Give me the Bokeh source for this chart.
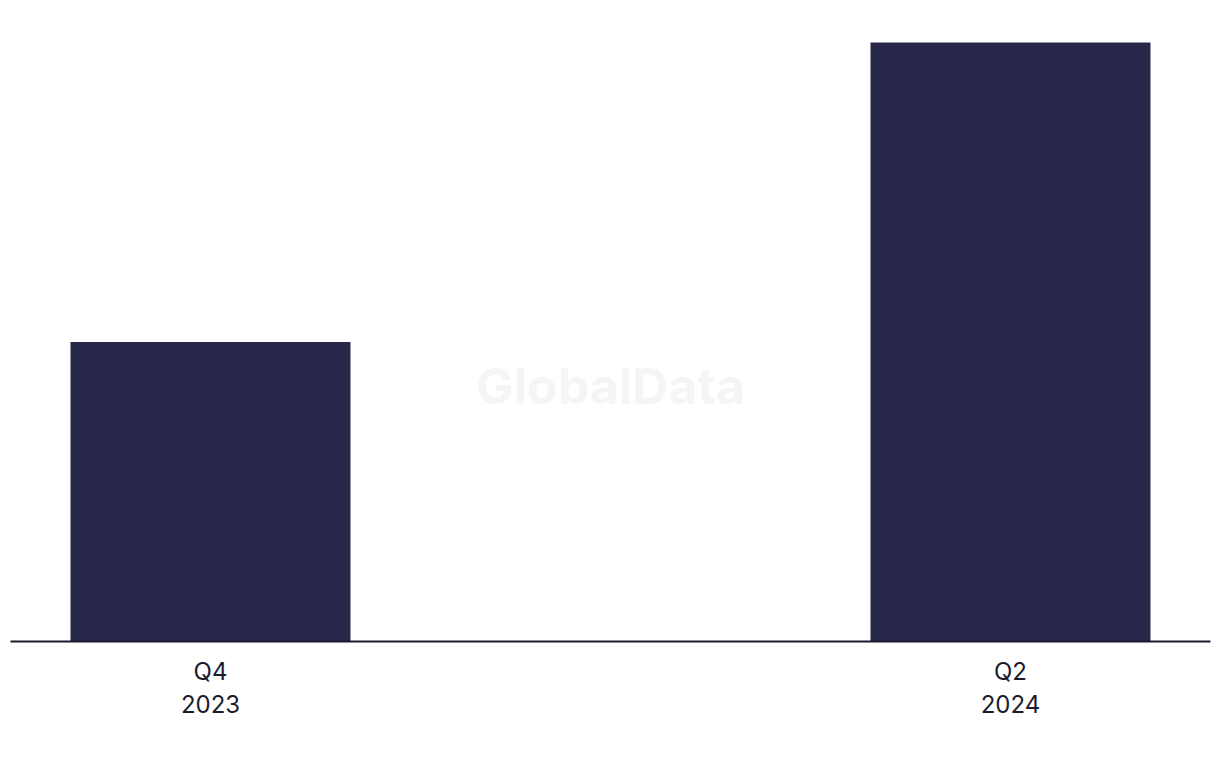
import numpy as np
from bokeh.plotting import figure
from bokeh.models import Range1d, FixedTicker, Label, ColumnDataSource
from bokeh.embed import file_html
from bokeh.resources import INLINE

periods = ["Q4\n2023", "Q1\n2024", "Q2\n2024"]
values = [50, None, 100]

BAR = "#28284a"
INK = "#1b1b2f"

idx = np.arange(len(periods)) + 0.5
keep = [i for i, v in enumerate(values) if v is not None]
src = ColumnDataSource(dict(x=[idx[i] for i in keep], top=[values[i] for i in keep]))

p = figure(width=1220, height=760, output_backend="svg", toolbar_location=None,
           x_range=Range1d(0, len(periods)), y_range=Range1d(0, 100 * 621 / 599),
           min_border_left=10, min_border_right=10, min_border_top=20, min_border_bottom=119)
p.outline_line_color = None
p.grid.visible = False
p.yaxis.visible = False

p.vbar(x="x", top="top", width=0.7, bottom=0, source=src, color=BAR, line_color=None)

wm = Label(x=len(periods) / 2, y=42.7, text="GlobalData", text_align="center",
           text_baseline="middle", text_font="Inter", text_font_style="bold",
           text_font_size="50px", text_color="#f5f5f5")
p.add_layout(wm, "center")

ax = p.xaxis[0]
ax.ticker = FixedTicker(ticks=[float(idx[i]) for i in keep])
ax.major_label_overrides = {float(idx[i]): periods[i] for i in keep}
ax.major_tick_line_color = None
ax.minor_tick_line_color = None
ax.axis_line_color = INK
ax.axis_line_width = 2
ax.major_label_text_font = "Inter"
ax.major_label_text_font_size = "24px"
ax.major_label_text_line_height = 1.14
ax.major_label_text_color = INK
ax.major_label_standoff = 9

open("out.html", "w").write(file_html(p, INLINE))
